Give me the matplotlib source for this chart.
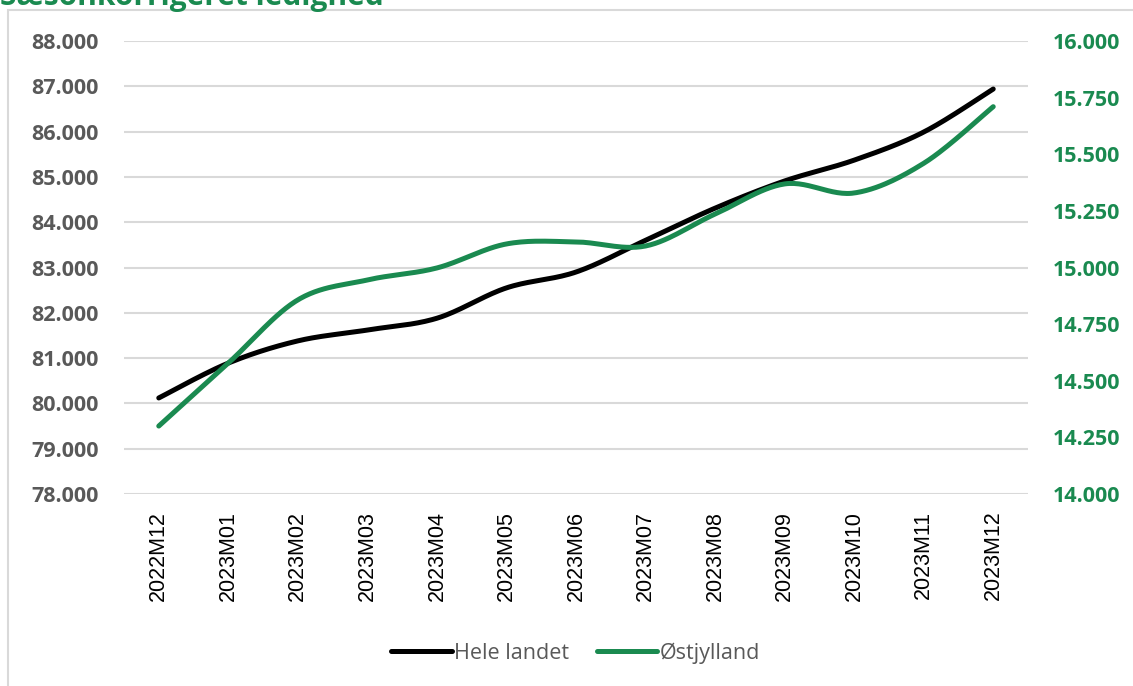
import numpy as np
import matplotlib
matplotlib.use("Agg")
import matplotlib.pyplot as plt
from matplotlib.patches import Rectangle
from matplotlib.ticker import FuncFormatter

months = ["2022M12", "2023M01", "2023M02", "2023M03", "2023M04", "2023M05", "2023M06",
          "2023M07", "2023M08", "2023M09", "2023M10", "2023M11", "2023M12"]
hele_landet = [80120, 80890, 81380, 81620, 81880, 82550, 82900,
               83600, 84310, 84910, 85370, 85990, 86940]
ostjylland = [14300, 14578, 14857, 14945, 14998, 15104, 15113,
              15095, 15236, 15369, 15329, 15460, 15710]

GREEN = "#1a8a50"
GRAY = "#595959"


def smooth(y, n=30):
    # Excel-style smoothed line: cubic Bezier through the points
    y = np.asarray(y, dtype=float)
    x = np.arange(len(y), dtype=float)
    px = np.concatenate([[x[0]], x, [x[-1]]])
    py = np.concatenate([[y[0]], y, [y[-1]]])
    xs, ys = [], []
    t = np.linspace(0, 1, n)
    for i in range(1, len(px) - 2):
        p0 = np.array([px[i], py[i]])
        p3 = np.array([px[i + 1], py[i + 1]])
        p1 = p0 + (np.array([px[i + 1], py[i + 1]]) - np.array([px[i - 1], py[i - 1]])) / 6
        p2 = p3 - (np.array([px[i + 2], py[i + 2]]) - np.array([px[i], py[i]])) / 6
        b = ((1 - t) ** 3)[:, None] * p0 + (3 * (1 - t) ** 2 * t)[:, None] * p1 \
            + (3 * (1 - t) * t ** 2)[:, None] * p2 + (t ** 3)[:, None] * p3
        xs.append(b[:, 0])
        ys.append(b[:, 1])
    return np.concatenate(xs), np.concatenate(ys)


def dk(v, pos):
    return f"{v:,.0f}".replace(",", ".")


plt.rcParams["font.family"] = ["Open Sans", "DejaVu Sans"]

fig = plt.figure(figsize=(11.33, 6.86), dpi=100)
ax = fig.add_axes([124 / 1133, 1 - 494 / 686, (1028 - 124) / 1133, (494 - 41) / 686])
ax2 = ax.twinx()

x1, y1 = smooth(hele_landet)
x2, y2 = smooth(ostjylland)
l1, = ax.plot(x1, y1, color="black", lw=3.6, solid_capstyle="round", zorder=3)
l2, = ax2.plot(x2, y2, color=GREEN, lw=3.6, solid_capstyle="round", zorder=3)

ax.set_xlim(-0.5, len(months) - 0.5)
ax.set_ylim(78000, 88000)
ax.set_yticks(np.arange(78000, 88001, 1000))
ax2.set_ylim(14000, 16000)
ax2.set_yticks(np.arange(14000, 16001, 250))
ax.yaxis.set_major_formatter(FuncFormatter(dk))
ax2.yaxis.set_major_formatter(FuncFormatter(dk))

ax.set_xticks(range(len(months)))
ax.set_xticklabels(months, rotation=90, fontsize=15.5, family="Liberation Sans")
ax.tick_params(axis="x", length=0, pad=12, colors="black")
ax.tick_params(axis="y", length=0, pad=18, labelsize=15.5, colors=GRAY)
ax2.tick_params(axis="y", length=0, pad=18, labelsize=15.5, colors=GREEN)
for lab in ax.get_yticklabels() + ax2.get_yticklabels():
    lab.set_fontweight("bold")

ax.grid(axis="y", color="#d9d9d9", lw=1.5)
ax.set_axisbelow(True)
for a in (ax, ax2):
    for s in a.spines.values():
        s.set_visible(False)

leg = fig.legend([l1, l2], ["Hele landet", "Østjylland"], loc="center",
                 bbox_to_anchor=(0.508, 1 - 653 / 686), ncol=2, frameon=False,
                 fontsize=15.5, handlelength=2.8, handletextpad=0.1, columnspacing=1.3)
for t in leg.get_texts():
    t.set_color(GRAY)

fig.add_artist(Rectangle((8 / 1133, -0.05), 1.2, 1 - 10 / 686 + 0.05,
                         transform=fig.transFigure, fill=False,
                         edgecolor="#d9d9d9", lw=1.5, clip_on=False))
fig.text(0.0, 1 - 5 / 686, "Sæsonkorrigeret ledighed", color=GREEN,
         fontsize=21.5, fontweight="bold", ha="left", va="baseline")

fig.savefig("out.png", dpi=100)
